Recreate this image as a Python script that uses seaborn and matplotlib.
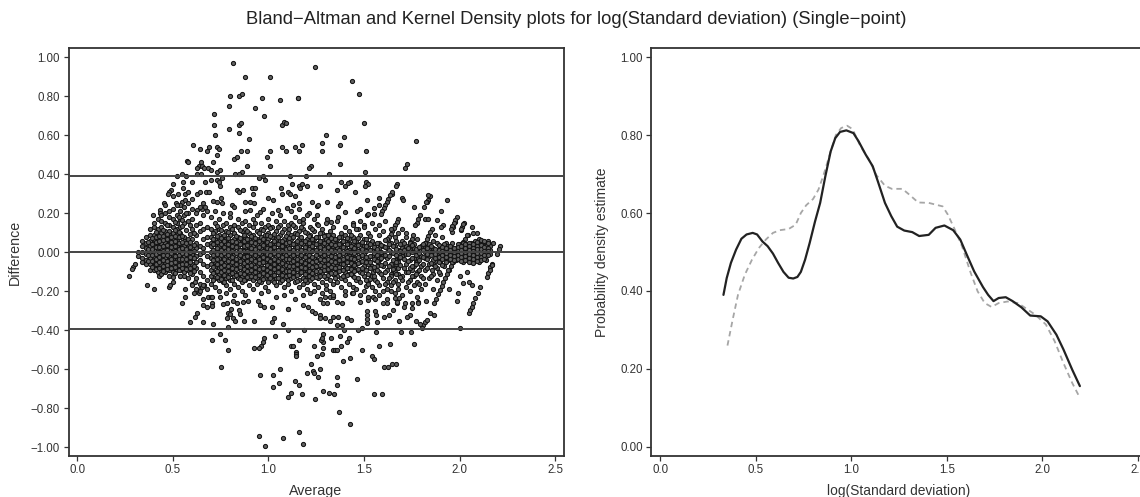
import matplotlib
matplotlib.use("Agg")
import matplotlib.pyplot as plt
from matplotlib.ticker import FuncFormatter
import pandas as pd
import seaborn as sns

TITLE = "Bland\u2212Altman and Kernel Density plots for log(Standard deviation) (Single\u2212point)"
mean_diff = 0.0
upper_limit = 0.39
lower_limit = -0.395
x_ticks = [0.0, 0.5, 1.0, 1.5, 2.0, 2.5]
left_y_ticks = [1.0, 0.8, 0.6, 0.4, 0.2, 0.0, -0.2, -0.4, -0.6, -0.8, -1.0]
right_y_ticks = [0.0, 0.2, 0.4, 0.6, 0.8, 1.0]

upper_points = [(.813,.971),(.88,.9),(1.009,.9),(.8,.8),(.848,.8),(.864,.81),(.965,.79),(1.059,.78),(1.154,.79),(.796,.75),(.93,.74),(.979,.7),(.714,.71),(.714,.65),(.845,.65),(.859,.66),(1.073,.65),(1.084,.67),(1.09,.66),(.794,.63),(.845,.61),(.719,.6),(.9,.58),(.604,.55),(.644,.53),(.691,.54),(.679,.52),(.729,.54),(.743,.53),(.729,.5),(.859,.52),(.89,.52),(1.07,.54),(1.09,.52),(1.14,.54),(1.159,.52),(1.009,.52),(.82,.48),(.834,.49),(.995,.49),(.574,.47),(.579,.46),(.709,.46),(.89,.44),(1.01,.44),(.649,.46),(.639,.44),(.625,.43),(.654,.44),(.663,.43),(.686,.43),(.698,.42),(.733,.41),(.749,.42),(.862,.41),(.845,.4),(.827,.4),(.524,.39),(.55,.4),(.628,.4),(.649,.4),(.759,.38),(.949,.38),(.974,.39),(.984,.37),(1.115,.39),
(.503,.35),(.57,.39),(.551,.36),(.599,.36),(.668,.36),(.698,.37),(.729,.37),(.743,.36),(.749,.34),(1.126,.35),(1.065,.33),(1.162,.34),(.914,.33),(.928,.33),(.838,.32),(.869,.32),(.845,.31),(.489,.32),(.48,.31),(.473,.3),(.499,.29),(.455,.25),(.529,.3),(.555,.33),(.565,.3),(.581,.31),(.599,.275),(.625,.3),(.642,.31),(.672,.31),(.689,.31),(1.07,.3),(1.1,.31),(1.113,.3),(1.14,.29),(.921,.3),(.75,.28),(.712,.262),(.73,.26),(.759,.25),(.878,.258),(.904,.258),(.927,.25),(.81,.24),(1.0,.28),(1.026,.267),(1.127,.24),(1.16,.25),(.515,.25),(.546,.26),(.564,.27),(.66,.25),(.625,.215),(.651,.224),(.668,.233),(.433,.215),(.459,.24),(.394,.19),(.433,.2),(.538,.24),(.82,.23),(.80,.2),(.875,.21),(.904,.215),(.955,.205),(.97,.22),(1.05,.215),(1.095,.225),
(1.244,.95),(1.439,.88),(1.474,.81),(1.153,.79),(1.5,.66),(1.773,.57),(1.3,.6),(1.394,.59),(1.279,.56),(1.279,.52),(1.375,.55),(1.511,.52),(1.174,.55),(1.221,.44),(1.214,.43),(1.375,.45),(1.724,.45),(1.715,.43),(1.504,.41),(1.319,.4),(1.195,.39),
(1.174,.35),(1.165,.33),(1.2,.34),(1.27,.34),(1.38,.36),(1.427,.36),(1.415,.353),(1.4,.34),(1.359,.32),(1.51,.36),(1.523,.35),(1.507,.34),(1.675,.35),(1.668,.34),(1.455,.31),(1.514,.27),(1.579,.28),(1.577,.24),(1.649,.3),(1.698,.28),(1.706,.27),(1.844,.29),(1.836,.27),(1.828,.26),(1.933,.27),(1.764,.23),(1.813,.23),(1.905,.21),(1.794,.19),(1.785,.173),(1.776,.15),(1.769,.14),(1.989,.18),(1.977,.156),(1.968,.13),(1.96,.104),(2.024,.15),(2.014,.13),(2.008,.116),(2.064,.13),(2.043,.087),(2.09,.1),(2.073,.1),(2.174,.05),(2.15,.06),(2.213,.03),(2.204,.015),(2.195,-.007),(2.16,-.075),(2.17,-.06),(1.82,.173),(1.837,.173),(1.88,.165),(1.916,.14),(1.904,.13),(1.226,.26),(1.253,.238),(1.26,.24),(1.305,.26),(1.375,.25),(1.366,.238),(1.48,.22),(1.465,.213),(1.514,.19),(1.55,.225),(1.55,.198),(1.523,.195),(1.4,.207),(1.366,.18),(1.305,.173),(1.33,.156),(1.253,.19),(1.253,.147),(1.21,.2),(1.18,.17),(1.44,.15),(1.5,.14),(1.47,.12),(1.58,.14),(1.61,.16),(1.7,.12),(1.72,.1),(1.87,.09),(1.91,.08),(1.86,.06),(1.93,.05)]

lower_points = [(.27,-.12),(.293,-.075),(.302,-.058),(.288,-.084),(.365,-.169),(.403,-.19),(.429,-.12),(.48,-.18),(.485,-.169),(.538,-.12),(.56,-.12),(.503,-.128),(.55,-.26),(.565,-.229),(.564,-.19),(.59,-.359),(.616,-.33),(.625,-.31),(.6,-.16),(.616,-.15),(.613,-.21),(.639,-.21),(.642,-.19),(.651,-.176),(.663,-.169),(.656,-.27),(.66,-.24),(.677,-.28),(.682,-.23),(.698,-.23),(.707,-.23),(.703,-.26),(.707,-.274),(.66,-.359),(.712,-.369),(.705,-.45),(.749,-.419),(.773,-.45),(.789,-.499),(.754,-.588),(.747,-.23),(.764,-.265),(.782,-.258),(.813,-.248),(.838,-.258),(.803,-.289),(.787,-.31),(.799,-.318),(.782,-.339),(.817,-.339),(.825,-.35),(.848,-.296),(.852,-.316),(.874,-.35),(.925,-.35),(.79,-.381),(.944,-.25),(.956,-.27),(.979,-.279),(1.017,-.279),(.894,-.25),(.869,-.253),(1.105,-.29),(1.03,-.339),(1.017,-.359),(1.075,-.369),(1.1,-.4),(1.035,-.429),(.979,-.439),(.97,-.458),(.96,-.479),(.953,-.489),(.925,-.489),(1.117,-.479),(1.131,-.479),(1.16,-.45),(1.145,-.51),(1.145,-.52),(1.145,-.53),(1.059,-.6),(.956,-.629),(1.024,-.629),(1.024,-.689),(1.054,-.67),(1.14,-.66),(1.159,-.68),(1.1,-.739),(1.12,-.72),(.949,-.94),(.984,-.99),(1.075,-.95),(1.159,-.92),(1.179,-.98),
(1.188,-.4),(1.239,-.479),(1.284,-.489),(1.288,-.458),(1.275,-.45),(1.279,-.439),(1.288,-.419),(1.33,-.439),(1.375,-.429),(1.42,-.439),(1.41,-.458),(1.38,-.479),(1.34,-.499),(1.349,-.499),(1.361,-.499),(1.49,-.499),(1.579,-.479),(1.635,-.47),(1.764,-.47),(1.544,-.53),(1.555,-.549),(1.603,-.59),(1.624,-.59),(1.645,-.57),(1.666,-.57),(1.254,-.53),(1.279,-.52),(1.429,-.54),(1.389,-.559),(1.225,-.57),(1.2,-.62),(1.235,-.609),(1.239,-.62),(1.27,-.6),(1.26,-.639),(1.359,-.639),(1.466,-.649),(1.359,-.68),(1.174,-.728),(1.244,-.749),(1.284,-.709),(1.319,-.72),(1.343,-.728),(1.555,-.728),(1.595,-.728),(1.37,-.82),(1.429,-.879),(1.694,-.41),(1.745,-.41),(1.565,-.41),(2.005,-.39),(1.811,-.373),(1.802,-.39),(1.794,-.369),(1.82,-.359),(1.829,-.347),(1.846,-.309),(1.867,-.32),(1.773,-.35),(1.741,-.323),(1.724,-.33),(2.047,-.31),(2.055,-.296),(2.064,-.279),(2.073,-.261),(2.082,-.236),(2.096,-.21),(2.108,-.18),(1.986,-.25),(1.994,-.21),(1.945,-.19),(2.02,-.159),(2.047,-.15),(2.064,-.169),(2.143,-.125),(2.151,-.107),(2.16,-.09),(2.169,-.065),(1.684,-.35),(1.605,-.33),(1.63,-.32),(1.654,-.296),(1.671,-.261),(1.682,-.236),(1.514,-.301),(1.514,-.321),(1.514,-.342),(1.514,-.362),(1.558,-.301),(1.563,-.321),(1.567,-.359),(1.471,-.398),(1.488,-.39),(1.396,-.4),(1.361,-.373),(1.384,-.373),(1.41,-.339),(1.434,-.349),(1.27,-.321),(1.27,-.339),(1.296,-.339),(1.322,-.35),(1.34,-.33),(1.366,-.33),(1.183,-.27),(1.209,-.279),(1.23,-.301),(1.244,-.31),(1.103,-.289),(1.288,-.258),(1.305,-.258),(1.27,-.24),(1.296,-.227),(1.322,-.227),(1.34,-.227),(1.357,-.253),(1.384,-.258),(1.401,-.219),(1.436,-.21),(1.48,-.253),(1.523,-.245),(1.549,-.227),(1.602,-.258),(1.619,-.258),(1.663,-.236),(1.671,-.253),(1.715,-.261),(1.75,-.261),(1.785,-.253),(1.823,-.248),(1.71,-.279),(1.75,-.287),(1.785,-.261)]

streak_points = [(1.645,.31),(1.636,.292),(1.628,.275),(1.62,.26),(1.612,.243),(1.604,.226),(1.596,.21),(1.59,.195),(1.68,.173),(1.672,.157),(1.664,.14),(1.656,.124),(1.648,.108),(1.64,.092),(1.632,.076),(1.624,.06),(1.706,.019),(1.698,.003),(1.69,-.013),(1.682,-.03),(1.674,-.046),(1.666,-.062),(1.658,-.078),(1.65,-.094),(1.642,-.11),(1.855,.121),(1.846,.103),(1.837,.085),(1.828,.067),(1.819,.05),(1.81,.032),(1.8,.012),(1.79,-.008),(1.78,-.028),(1.77,-.05),(1.76,-.07),(1.75,-.092),(1.986,-.007),(1.976,-.027),(1.966,-.048),(1.956,-.069),(1.946,-.09),(1.936,-.11),(1.926,-.13),(1.916,-.15),(1.906,-.171),(1.896,-.192),(1.886,-.213),(1.876,-.24),(1.868,-.258),(2.038,.087),(2.029,.07),(2.02,.053),(2.011,.037),(2.002,.02),(1.994,.006),(1.977,.164),(1.969,.15),(1.961,.135),(1.953,.118),(2.02,.147),(2.008,.121),(1.759,.087),(1.75,.07),(1.742,.052),(1.734,.034),(1.726,.016),(1.837,.292),(1.825,.258),(1.898,.01),(1.889,-.008),(1.88,-.026),(1.871,-.044),(1.862,-.062),(1.855,-.09),(1.593,-.015),(1.584,-.033),(1.575,-.05),(1.566,-.068),(1.557,-.085),(1.548,-.103),(1.539,-.12),(1.53,-.138),(1.521,-.155),(1.512,-.172)]

band_avg = [.32,.34,.36,.38,.40,.42,.44,.46,.48,.50,.52,.54,.56,.58,.60,.62,.64,.66,.68,.70,.72,.74,.76,.78,.80,.82,.84,.86,.88,.90,.92,.94,.96,.98,1.0,1.02,1.04,1.06,1.08,1.10,1.12,1.14,1.16,1.18,1.20,1.22,1.24,1.26,1.28,1.30,1.32,1.34,1.36,1.38,1.40,1.42,1.44,1.46,1.48,1.50,1.52,1.54,1.56,1.58,1.60,1.62,1.64,1.66,1.68,1.70,1.72,1.74,1.76,1.78,1.80,1.82,1.84,1.86,1.88,1.90,1.92,1.94,1.96,1.98,2.0,2.02,2.04,2.06,2.08,2.10,2.12,2.14,2.16]
band_diff = [
[.0,-.02],[.03,.0,-.03,-.05,.06],[.08,.05,.02,-.01,-.04,-.06],[.09,.06,.03,.0,-.03,-.06,-.09,.12],[.13,.09,.07,.04,.01,-.02,-.05,-.07,-.09,.15],
[.17,.12,.09,.06,.03,.0,-.02,-.05,-.08,-.1],[.16,.13,.1,.07,.05,.02,-.01,-.03,-.06,-.09,-.11,.19],[.2,.15,.11,.08,.05,.03,.0,-.03,-.05,-.07,-.1],[.18,.14,.11,.09,.06,.04,.01,-.02,-.04,-.07,-.09,-.12,.21],[.22,.17,.13,.1,.07,.05,.02,.0,-.03,-.06,-.08,-.1,-.15],
[.24,.19,.15,.12,.09,.06,.03,.01,-.02,-.04,-.07,-.09],[.21,.17,.13,.1,.08,.05,.02,-.01,-.03,-.06,-.09,-.12],[.23,.19,.15,.08,.06,.03,.0,-.02,-.05,-.08,-.1],[.25,.2,.16,.07,.04,.01,-.02,-.04,-.07,-.09,-.13],[.22,.17,.12,.07,.02,-.01,-.03,-.06,-.09,-.11,-.17],
[.2,.14,.09,.05,.02,-.02,-.05,-.08,-.13,-.19],[.23,.15,.11,.03,-.01,-.04,-.1,-.16,-.2],[.19,.12,.07,.02,.0,-.06,-.12,-.17],[.21,.13,.08,.04,-.02,-.07,-.14,-.19],[.18,.12,.08,.05,.03,.0,-.03,-.06,-.09,-.12,-.16],
[.21,.15,.11,.07,.04,.01,-.02,-.05,-.07,-.1,-.13,-.18],[.17,.12,.09,.06,.03,.0,-.03,-.06,-.08,-.11,-.14,-.2],[.2,.14,.08,.05,.02,-.01,-.04,-.07,-.09,-.12,-.15],[.15,.11,.07,.04,.01,-.02,-.05,-.08,-.1,-.13,-.17,-.21],[.18,.13,.09,.06,.03,.0,-.03,-.06,-.09,-.11,-.14,-.19],
[.14,.1,.07,.05,.02,-.01,-.04,-.07,-.1,-.12,-.16,-.22],[.17,.13,.08,.06,.03,.0,-.03,-.05,-.08,-.11,-.13,-.18],[.15,.11,.07,.04,.01,-.02,-.04,-.07,-.1,-.12,-.15,-.2],[.16,.12,.08,.05,.02,.0,-.03,-.06,-.09,-.11,-.14,-.22],[.14,.1,.07,.04,.01,-.02,-.05,-.08,-.1,-.13,-.17],
[.17,.13,.09,.06,.03,.0,-.03,-.06,-.08,-.11,-.14,-.19],[.19,.11,.07,.04,.01,-.02,-.04,-.07,-.1,-.13,-.16],[.15,.12,.08,.05,.02,-.01,-.03,-.06,-.09,-.12,-.15,-.21],[.13,.09,.06,.04,.01,-.02,-.05,-.08,-.1,-.13,-.18],[.17,.14,.1,.07,.03,.0,-.03,-.06,-.09,-.12,-.15,-.2],
[.2,.13,.08,.05,.02,-.01,-.04,-.07,-.1,-.12,-.14],[.16,.11,.07,.04,.01,-.02,-.05,-.07,-.1,-.13,-.17,-.23],[.19,.14,.09,.06,.03,.0,-.03,-.06,-.09,-.11,-.15],[.16,.12,.07,.05,.02,-.01,-.04,-.07,-.1,-.13,-.18,-.22],[.14,.1,.06,.03,.0,-.02,-.05,-.08,-.11,-.14,-.16],
[.21,.15,.09,.07,.04,.01,-.02,-.05,-.08,-.11,-.13,-.2],[.18,.13,.1,.05,.02,-.01,-.03,-.06,-.09,-.12,-.15,-.24],[.22,.16,.11,.07,.03,.0,-.03,-.06,-.08,-.11,-.14,-.18],[.15,.12,.06,.04,.01,-.02,-.05,-.07,-.1,-.13,-.16,-.22],[.19,.1,.07,.05,.02,-.01,-.04,-.07,-.09,-.12,-.15,-.19],
[.13,.09,.06,.03,.0,-.02,-.05,-.08,-.11,-.14,-.21],[.17,.11,.07,.04,.01,-.03,-.06,-.09,-.12,-.16,-.2],[.14,.08,.05,.02,-.01,-.04,-.07,-.1,-.13,-.18],[.12,.1,.06,.03,.0,-.02,-.05,-.08,-.11,-.15,-.21],[.15,.09,.07,.04,.01,-.03,-.06,-.09,-.13,-.17,-.19],
[.11,.08,.05,.02,-.01,-.04,-.07,-.1,-.14,-.2],[.13,.09,.06,.03,.0,-.03,-.06,-.08,-.11,-.16,-.22],[.16,.07,.04,.02,-.02,-.05,-.07,-.1,-.12,-.15],[.1,.08,.05,.03,.0,-.03,-.06,-.09,-.13,-.18],[.13,.09,.06,.02,-.01,-.04,-.07,-.1,-.14,-.2],
[.11,.07,.04,.01,-.02,-.05,-.08,-.11,-.16],[.14,.08,.05,.02,-.01,-.04,-.07,-.12,-.18,-.21],[.12,.06,.03,.0,-.03,-.06,-.09,-.14,-.19],[.16,.09,.04,.01,-.02,-.05,-.1,-.15,-.22],[.13,.07,.03,-.01,-.04,-.07,-.12,-.2],
[.1,.05,.02,-.03,-.06,-.11,-.16,-.23],[.15,.06,.01,-.02,-.07,-.12,-.18],[.12,.04,.0,-.04,-.09,-.14,-.2,-.24],[.09,.05,.02,-.03,-.1,-.17,-.22],[.11,.03,-.02,-.07,-.13,-.2],
[.07,.02,-.03,-.09,-.15,-.19,-.24],[.12,.05,.0,-.06,-.12,-.17,-.2],[.08,.03,-.04,-.1,-.14,-.21],[.1,.01,-.05,-.08,-.11,-.16,-.19],[.06,.02,-.02,-.12,-.14,-.22],
[.08,.03,-.01,-.06,-.1,-.18],[.05,.01,-.04,-.08,-.14,-.2],[.04,.02,-.03,-.12,-.17],[.07,.0,-.05,-.1,-.15,-.23],[.03,.01,-.02,-.07,-.12,-.19],
[.05,.0,-.03,-.09,-.16],[.04,.01,-.02,-.06,-.13],[.02,.0,-.04,-.11,-.19],[.05,.01,-.03,-.08,-.14],[.03,.0,-.02,-.05,-.11],
[.04,.01,-.01,-.03,-.07],[.03,.0,-.02,-.04,-.09],[.05,.02,.0,-.03,-.05],[.02,.0,-.02,-.04],[.04,.02,.0,-.02,-.04,-.12],
[.05,.03,.01,-.01,-.03,-.05],[.04,.02,.0,-.02,-.04,-.1],[.05,.03,.01,-.01,-.03,-.05],[.06,.04,.02,.0,-.02,-.04],[.07,.04,.01,-.01,-.03,-.05],
[.06,.03,.01,-.01,-.03],[.05,.03,.0,-.02,-.04],[.03,.01,-.01]]

core_avg = [.37,.39,.41,.43,.45,.47,.49,.51,.53,.55,.57,.59,.61,.71,.73,.75,.77,.79,.81,.83,.85,.87,.89,.91,.93,.95,.97,.99,1.01,1.03,1.05,1.07,1.09,1.11,1.13,1.15,1.17,1.19,1.21,1.23,1.25,1.27,1.29,1.31,1.33,1.35,1.37,1.39,1.41,1.43,1.45,1.47,1.49,1.51,1.53,1.55,1.57,1.59,1.61,1.63,1.65,1.67,1.69,1.71,1.73,1.75,1.77,1.79,1.81,1.83,1.85,1.87,1.89,1.91,1.93,1.95,1.97,1.99,2.01,2.03,2.05,2.07,2.09,2.11,2.13,2.15]
core_diff = [
[.055,.015,-.015,-.045],[.075,.045,.015,-.015,-.045,-.075],[.105,.08,.052,.025,-.008,-.035,-.062,-.088],[.082,.058,.028,.004,-.024,-.052,-.078],[.113,.086,.062,.034,.008,-.016,-.042,-.068,-.095],[.14,.094,.066,.038,.012,-.012,-.044,-.064,-.088],[.078,.052,.026,-.006,-.032,-.056,-.082],[.155,.115,.084,.058,.034,.008,-.018,-.048,-.074,-.105],[.18,.105,.076,.046,.016,-.012,-.036,-.064,-.09],[.165,.136,.084,.052,.024,-.006,-.034,-.058,-.082],[.2,.112,.048,.018,-.01,-.036,-.062,-.086],[.14,.095,.052,.028,.004,-.024,-.05,-.078,-.105],[.1,.035,.008,-.03,-.068,-.095],
[.1,.066,.04,.014,-.014,-.042,-.074,-.104,-.14],[.135,.086,.054,.022,-.008,-.036,-.062,-.094,-.125],[.116,.072,.044,.012,-.014,-.048,-.074,-.102,-.136],[.09,.056,.028,-.004,-.032,-.064,-.092,-.118,-.15],[.104,.074,.042,.016,-.014,-.044,-.07,-.098,-.126],[.12,.06,.034,.006,-.022,-.052,-.082,-.108,-.14],[.082,.052,.026,-.004,-.034,-.058,-.088,-.114],[.115,.072,.044,.014,-.016,-.044,-.076,-.104,-.135],[.09,.058,.03,.006,-.024,-.054,-.084,-.11,-.14],[.11,.068,.036,.008,-.018,-.046,-.072,-.098,-.125],[.084,.054,.024,-.006,-.036,-.066,-.092,-.12],
[.15,.072,.046,.016,-.014,-.044,-.074,-.1,-.128],[.098,.056,.026,-.004,-.032,-.056,-.086,-.114,-.145],[.112,.07,.036,.006,-.024,-.052,-.082,-.108,-.135],[.088,.054,.022,-.008,-.036,-.066,-.092,-.118],[.125,.084,.044,.016,-.012,-.044,-.074,-.102,-.13],[.095,.06,.026,-.004,-.034,-.06,-.086,-.116,-.15],[.13,.076,.044,.014,-.016,-.046,-.076,-.102,-.132],[.104,.058,.034,.006,-.024,-.054,-.084,-.114,-.142],[.085,.048,.016,-.012,-.036,-.066,-.094,-.122],[.12,.074,.052,.022,-.006,-.036,-.068,-.094,-.118],
[.142,.08,.044,.012,-.014,-.044,-.072,-.1,-.126],[.096,.056,.026,-.004,-.034,-.058,-.086,-.114,-.145],[.13,.08,.046,.014,-.016,-.044,-.074,-.102],[.106,.06,.028,.006,-.024,-.054,-.082,-.11,-.14],[.086,.05,.016,-.012,-.038,-.066,-.094,-.124],[.118,.066,.034,.008,-.022,-.052,-.076,-.104,-.13],[.078,.044,.012,-.014,-.044,-.072,-.098,-.128],[.1,.056,.026,-.006,-.034,-.064,-.094,-.122],[.085,.046,.016,-.012,-.042,-.068,-.092,-.12],[.09,.056,.026,-.004,-.032,-.058,-.084,-.118],
[.072,.04,.012,-.018,-.046,-.076,-.104],[.066,.036,.008,-.022,-.05,-.078,-.106,-.13],[.08,.044,.014,-.014,-.042,-.074,-.098],[.056,.026,-.006,-.034,-.062,-.092,-.122],[.074,.044,.008,-.024,-.052,-.082,-.116],[.09,.034,.004,-.028,-.056,-.086,-.112],[.058,.022,-.006,-.036,-.066,-.098,-.128],[.074,.036,.008,-.024,-.054,-.084,-.13],[.052,.016,-.014,-.044,-.078,-.105],
[.066,.034,.006,-.022,-.052,-.09,-.14],[.082,.04,.012,-.018,-.048,-.082],[.028,-.006,-.034,-.076,-.12],[.05,.018,-.014,-.046,-.09,-.15],[.036,.004,-.028,-.066,-.11],[.062,.026,-.012,-.056,-.1,-.16],[.044,.012,-.02,-.07,-.13],[.032,-.004,-.04,-.085,-.15],[.058,.016,-.012,-.05,-.11],[.04,.006,-.024,-.066,-.125],[.048,.014,-.032,-.08],
[.022,-.01,-.045,-.1,-.15],[.036,.004,-.03,-.072,-.12],[.018,-.014,-.062,-.11],[.028,-.006,-.04,-.09,-.16],[.04,.012,-.024,-.06,-.13],[.024,-.008,-.036,-.082],[.03,.004,-.016,-.056,-.12],[.016,-.01,-.03,-.07],[.036,.012,-.024,-.05,-.1],[.026,.006,-.014,-.036,-.066],[.02,-.004,-.026,-.05],[.034,.012,-.012,-.034],[.024,.004,-.018,-.042],
[.044,.026,.006,-.014,-.036],[.03,.012,-.006,-.026,-.046],[.04,.022,.002,-.018,-.04],[.05,.03,.012,-.008,-.028,-.048],[.042,.024,.006,-.014,-.034,-.056],[.052,.034,.016,-.004,-.024,-.044],[.062,.038,.018,-.004,-.022,-.042],[.056,.028,.006,-.016,-.036],[.046,.024,.006,-.012]]

curve_avg = [.331,.348,.37,.397,.425,.452,.484,.507,.535,.562,.59,.617,.645,.672,.696,.718,.736,.758,.782,.81,.837,.864,.892,.916,.941,.974,1.011,1.038,1.075,1.112,1.139,1.176,1.209,1.24,1.277,1.319,1.355,1.405,1.441,1.487,1.533,1.57,1.606,1.643,1.689,1.716,1.744,1.771,1.808,1.844,1.89,1.936,1.991,2.027,2.073,2.11,2.156,2.196]
curve_density = [.39,.433,.472,.506,.534,.545,.549,.545,.527,.515,.496,.472,.449,.434,.432,.436,.449,.48,.523,.578,.626,.694,.758,.792,.808,.812,.805,.784,.75,.72,.681,.626,.592,.565,.555,.551,.541,.544,.562,.568,.556,.532,.491,.45,.41,.39,.374,.382,.384,.374,.358,.337,.335,.322,.288,.25,.198,.156]
dashed_avg = [.352,.379,.407,.443,.48,.516,.553,.59,.626,.672,.709,.736,.764,.8,.828,.855,.892,.919,.947,.978,1.007,1.048,1.093,1.13,1.176,1.212,1.267,1.304,1.35,1.405,1.478,1.505,1.542,1.579,1.625,1.661,1.698,1.734,1.771,1.817,1.872,1.918,1.963,2.018,2.064,2.11,2.156,2.196]
dashed_density = [.26,.326,.39,.442,.48,.51,.532,.549,.556,.559,.57,.6,.62,.636,.66,.698,.758,.8,.818,.824,.815,.771,.737,.698,.67,.662,.662,.647,.627,.626,.617,.596,.557,.515,.446,.399,.369,.359,.369,.373,.369,.354,.339,.314,.271,.215,.164,.126]

sns.set_theme(style="ticks")
plt.rcParams["font.family"] = ["Liberation Sans", "DejaVu Sans"]
INK = "#333333"

records = list(upper_points + lower_points + streak_points)
for a, col in zip(band_avg, band_diff):
    records += [(a, d) for d in col]
for a, col in zip(core_avg, core_diff):
    records += [(a, d) for d in col]
scatter_df = pd.DataFrame(records, columns=["Average", "Difference"])
solid_df = pd.DataFrame({"x": curve_avg, "y": curve_density})
dashed_df = pd.DataFrame({"x": dashed_avg, "y": dashed_density})

W, H = 1140, 497
fig = plt.figure(figsize=(W / 100, H / 100), dpi=100, facecolor="white")
ax1 = fig.add_axes([68.5 / W, 1 - 455.5 / H, 495 / W, 407 / H])
ax2 = fig.add_axes([651.4 / W, 1 - 455.5 / H, 495 / W, 407 / H])

sns.scatterplot(data=scatter_df, x="Average", y="Difference", ax=ax1, s=9,
                facecolor="#606060", edgecolor="#141414", linewidth=0.75, zorder=3)
for level in (upper_limit, mean_diff, lower_limit):
    ax1.axhline(level, color="#444444", lw=1.4, zorder=4)

sns.lineplot(data=dashed_df, x="x", y="y", ax=ax2, sort=False, color="#a6a6a6", lw=1.3,
             linestyle=(0, (3, 2.2)), errorbar=None)
sns.lineplot(data=solid_df, x="x", y="y", ax=ax2, sort=False, color="#222222", lw=1.6,
             errorbar=None)

ax1.set_ylim(-1.041, 1.044)
ax2.set_ylim(-0.022, 1.022)
ax1.set_yticks(left_y_ticks)
ax2.set_yticks(right_y_ticks)
ax1.set_xlabel("Average", fontsize=10.3, color=INK, labelpad=6)
ax1.set_ylabel("Difference", fontsize=10.3, color=INK, labelpad=6)
ax2.set_xlabel("log(Standard deviation)", fontsize=9.9, color=INK, labelpad=6)
ax2.set_ylabel("Probability density estimate", fontsize=10, color=INK, labelpad=8)
for ax in (ax1, ax2):
    ax.set_xlim(-0.046, 2.544)
    ax.set_xticks(x_ticks)
    ax.set_xticklabels([f"{t:.1f}" for t in x_ticks])
    ax.yaxis.set_major_formatter(FuncFormatter(lambda v, _: f"{v:.2f}".replace("-", "\u2212")))
    ax.tick_params(length=3.6, width=0.9, color=INK, labelsize=8.3, labelcolor=INK, pad=2.5)
    for side in ax.spines.values():
        side.set_visible(True)
        side.set_linewidth(1.3)
        side.set_color(INK)

fig.text(576 / W, 1 - 20 / H, TITLE, ha="center", va="center", fontsize=13.2, color="#222222")
fig.savefig("out.png", dpi=100)
